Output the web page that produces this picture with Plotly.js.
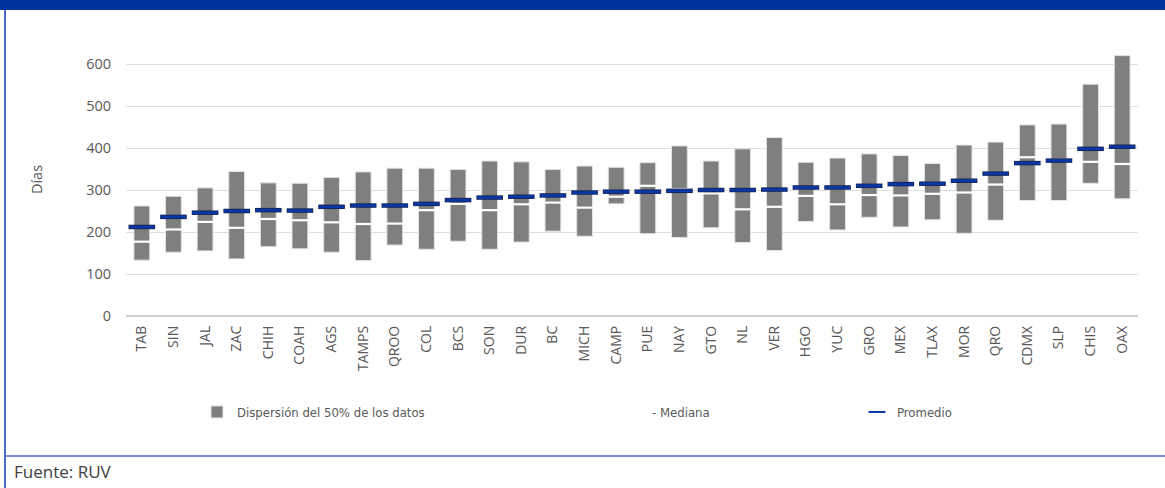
<!DOCTYPE html>
<html>
<head>
<meta charset="utf-8">
<script src="https://cdn.plot.ly/plotly-3.0.1.min.js"></script>
<style>
  html, body { margin: 0; padding: 0; background: #ffffff; }
  #chart { width: 1165px; height: 488px; }
</style>
</head>
<body>
<div id="chart"></div>
<script>
// Días de trámite por entidad: rango intercuartílico, mediana y promedio
const estados = ["TAB","SIN","JAL","ZAC","CHIH","COAH","AGS","TAMPS","QROO","COL","BCS","SON","DUR","BC","MICH","CAMP",
                 "PUE","NAY","GTO","NL","VER","HGO","YUC","GRO","MEX","TLAX","MOR","QRO","CDMX","SLP","CHIS","OAX"];
const cuartil1 = [133,152,155,136,165,160,152,132,169,159,178,159,176,202,190,267,
                  196,187,210,175,156,225,205,235,212,229,197,228,275,275,316,279];
const cuartil3 = [262,285,305,344,317,316,330,343,352,352,349,369,367,349,357,354,
                  365,405,369,398,425,366,376,386,382,363,407,414,455,457,552,620];
const mediana  = [177,206,224,210,231,228,223,219,220,252,267,252,266,270,258,284,
                  310,302,292,254,260,286,266,288,287,291,294,313,378,372,367,362];
const promedio = [212,236,246,250,252,251,260,263,263,267,276,282,284,287,294,296,
                  296,298,300,300,301,306,306,310,314,315,322,339,364,370,398,403];

const W = 1165, H = 488;
const M = {l: 126, r: 27, t: 43, b: 172};
const plotW = W - M.l - M.r, plotH = H - M.t - M.b;
// pixel -> paper helpers for the frame decorations
const px = x => (x - M.l) / plotW;
const py = y => (H - M.b - y) / plotH;

const FONT = "'Open Sans', 'DejaVu Sans', sans-serif";
const NARROW = "'DejaVu Sans Condensed', 'Liberation Sans Narrow', 'Liberation Sans', sans-serif";
const TXT = "#595959";

const alto = cuartil3.map((v, i) => v - cuartil1[i]);

const traces = [
  {
    type: "bar", x: estados, y: alto, base: cuartil1,
    name: "Dispersión del 50% de los datos", legend: "legend",
    width: 0.5,
    marker: {color: "#7f7f7f", line: {color: "#e3e3e3", width: 1}},
    hoverinfo: "skip"
  },
  {
    type: "scatter", mode: "markers", x: estados, y: mediana,
    name: "- Mediana", legend: "legend2",
    marker: {symbol: "line-ew", size: 16, color: "#ffffff", line: {color: "#ffffff", width: 2.2}},
    hoverinfo: "skip"
  },
  {
    type: "scatter", mode: "markers", x: estados, y: promedio,
    showlegend: false,
    marker: {symbol: "line-ew", size: 19, color: "#1a2250", line: {color: "#1a2250", width: 4.5}},
    hoverinfo: "skip"
  },
  {
    type: "scatter", mode: "markers", x: estados, y: promedio,
    name: "Promedio", legend: "legend3",
    marker: {symbol: "line-ew", size: 18, color: "#0838a8", line: {color: "#0838a8", width: 2.8}},
    hoverinfo: "skip"
  }
];

const legendBase = {
  orientation: "h", yanchor: "middle", xanchor: "left", y: py(412),
  font: {family: NARROW, size: 13, color: TXT},
  bgcolor: "rgba(0,0,0,0)", itemwidth: 30
};

const layout = {
  width: W, height: H,
  margin: M,
  paper_bgcolor: "#ffffff", plot_bgcolor: "#ffffff",
  font: {family: FONT, color: TXT},
  barmode: "overlay",
  xaxis: {
    type: "category", tickangle: -90,
    tickfont: {family: FONT, size: 14, color: TXT},
    showgrid: false, showline: false, zeroline: false, ticks: "",
    ticklabelstandoff: 6,
    range: [-0.5, estados.length - 0.5]
  },
  yaxis: {
    range: [0, 650], tickvals: [0,100,200,300,400,500,600],
    tickfont: {family: FONT, size: 14.5, color: TXT},
    gridcolor: "#dedede", gridwidth: 1,
    zeroline: true, zerolinecolor: "#d2d2d2", zerolinewidth: 1.5,
    showline: false, ticks: "", ticklabelstandoff: 14,
    title: {text: "Días", font: {family: FONT, size: 14.5, color: TXT}, standoff: 40}
  },
  legend:  Object.assign({}, legendBase, {x: px(197)}),
  legend2: Object.assign({}, legendBase, {x: px(612)}),
  legend3: Object.assign({}, legendBase, {x: px(857), itemsizing: "constant"}),
  shapes: [
    {type: "rect", xref: "paper", yref: "paper", x0: px(0), x1: px(W), y0: py(10), y1: py(0),
     fillcolor: "#003399", line: {width: 0}},
    {type: "line", xref: "paper", yref: "paper", x0: px(5), x1: px(5), y0: py(10), y1: py(H),
     line: {color: "#4a6cc0", width: 2}},
    {type: "line", xref: "paper", yref: "paper", x0: px(5), x1: px(W), y0: py(456), y1: py(456),
     line: {color: "#4a6cc0", width: 1.5}}
  ],
  annotations: [
    {xref: "paper", yref: "paper", x: px(12), y: py(471), xanchor: "left", yanchor: "middle",
     text: "Fuente: RUV", showarrow: false, font: {family: FONT, size: 17, color: "#404040"}}
  ]
};

Plotly.newPlot("chart", traces, layout, {displayModeBar: false, staticPlot: true});
</script>
</body>
</html>
